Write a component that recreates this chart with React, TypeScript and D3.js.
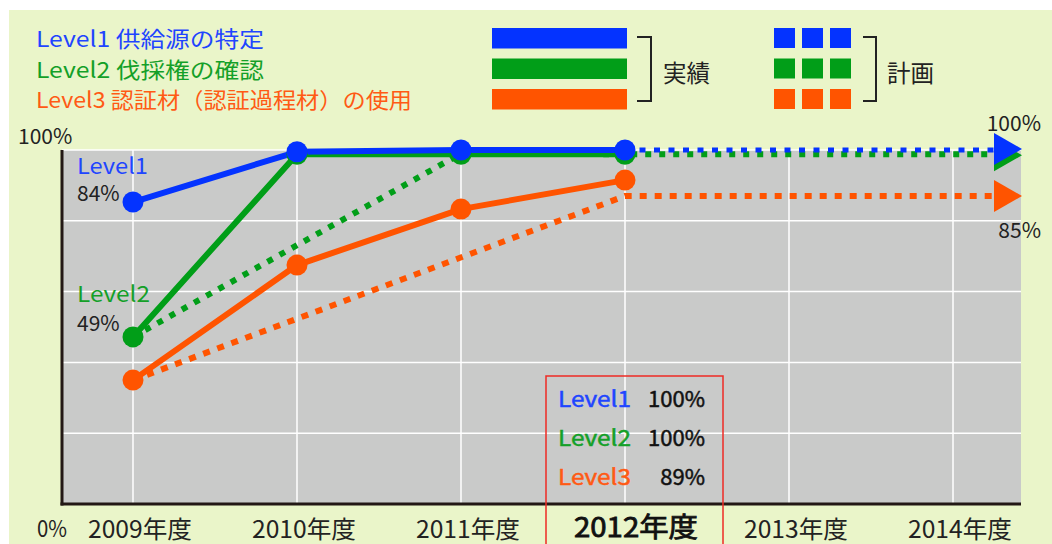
import React from 'react';
import * as d3 from 'd3';

// ---------- data ----------
const years = ['2009年度', '2010年度', '2011年度', '2012年度', '2013年度', '2014年度'];
const actualYears = ['2009年度', '2010年度', '2011年度', '2012年度'];
const level1Actual = [85.3, 99.5, 100, 100];
const level2Actual = [47.2, 98.8, 98.8, 98.8];
const level3Actual = [35, 67.5, 83.3, 91.5];
// plan lines ("END" = arrow at right edge)
const level1PlanX = ['2012年度', 'END'];
const level1PlanY = [100, 100];
const level2PlanX = ['2009年度', '2011年度', '2012年度', 'END'];
const level2PlanY = [47.2, 99, 98.8, 98.8];
const level3PlanX = ['2009年度', '2012年度', 'END'];
const level3PlanY = [35, 87, 87];
const gridTicks = [0, 20, 40, 60, 80, 100];
const legendLabels = ['Level1 供給源の特定', 'Level2 伐採権の確認', 'Level3 認証材（認証過程材）の使用'];
const boxLevels = ['Level1', 'Level2', 'Level3'];
const boxValues = ['100%', '100%', '89%'];
const startLabels = ['84%', '49%'];
const endLabels = ['100%', '85%'];
const highlightYear = '2012年度';

const BLUE = '#0433ff';
const GREEN = '#019e18';
const ORANGE = '#ff5400';
const BLUE_T = '#1f45ff';
const GREEN_T = '#14a028';
const ORANGE_T = '#ff5a14';
const DARK = '#222';
const FONT = '"Noto Sans CJK JP", "Noto Sans", sans-serif';

export default function App() {
  const left = 62, right = 1021, top = 150, bottom = 504;
  const x = d3.scalePoint<string>().domain(years).range([64, 1022]).padding(0.4207);
  const y = d3.scaleLinear().domain([0, 100]).range([bottom, top]);
  const arrowLen = 27;
  const xEndLine = right - arrowLen + 2;
  const xp = (k: string) => (k === 'END' ? xEndLine : (x(k) as number));

  const line = d3.line<[number, number]>().x((d) => d[0]).y((d) => d[1]);
  const actualPath = (vals: number[]) =>
    line(actualYears.map((k, i) => [x(k) as number, y(vals[i])]));
  const planPath = (ks: string[], vs: number[]) =>
    line(ks.map((k, i) => [xp(k), y(vs[i])]));
  const arrow = (v: number, dy = 0) => {
    const cy = y(v) + dy;
    return `M${right - arrowLen},${cy - 16}L${right + 1},${cy}L${right - arrowLen},${cy + 16}Z`;
  };

  const series = [
    { vals: level3Actual, color: ORANGE },
    { vals: level2Actual, color: GREEN },
    { vals: level1Actual, color: BLUE },
  ];
  const legendLens = [228, 228, 376];

  return (
    <svg width={1052} height={544} style={{ position: 'absolute', left: 0, top: 0, display: 'block' }} fontFamily={FONT}>
      <rect x={9} y={10} width={1043} height={534} fill="#eaf5c9" />
      <rect x={left} y={top} width={right - left} height={bottom - top} fill="#c9cac9" />
      {gridTicks.map((t) => (
        <line key={'h' + t} x1={left} x2={right} y1={y(t)} y2={y(t)} stroke="#fff" strokeWidth={1.5} />
      ))}
      {years.map((k) => (
        <line key={'v' + k} x1={x(k)} x2={x(k)} y1={top} y2={bottom} stroke="#fff" strokeWidth={1.5} />
      ))}
      <line x1={left} x2={left} y1={top} y2={bottom + 1.5} stroke="#231815" strokeWidth={3} />
      <line x1={left - 1.5} x2={right} y1={bottom} y2={bottom} stroke="#231815" strokeWidth={3} />

      {/* plan lines */}
      <path d={planPath(level3PlanX, level3PlanY) || ''} fill="none" stroke={ORANGE} strokeWidth={6} strokeDasharray="7 8" />
      <path d={planPath(level2PlanX, level2PlanY) || ''} fill="none" stroke={GREEN} strokeWidth={6} strokeDasharray="6 8" />
      <path d={planPath(level1PlanX, level1PlanY) || ''} fill="none" stroke={BLUE} strokeWidth={5} strokeDasharray="6 8.5" />
      <path d={arrow(level3PlanY[level3PlanY.length - 1])} fill={ORANGE} />
      <path d={arrow(level2PlanY[level2PlanY.length - 1], 1)} fill={GREEN} />
      <path d={arrow(level1PlanY[level1PlanY.length - 1], -1)} fill={BLUE} />

      {/* actual lines */}
      {series.map((s, i) => (
        <path key={'a' + i} d={actualPath(s.vals) || ''} fill="none" stroke={s.color} strokeWidth={6} strokeLinejoin="round" />
      ))}
      {series.map((s, i) =>
        s.vals.map((v, j) => (
          <circle key={'c' + i + '-' + j} cx={x(actualYears[j])} cy={y(v)} r={10.5} fill={s.color} />
        ))
      )}

      {/* legend (top-left) */}
      {legendLabels.map((t, i) => (
        <text key={t} x={36} y={37 + i * 30.5} dominantBaseline="central" fontSize={22}
          textLength={legendLens[i]} lengthAdjust="spacingAndGlyphs"
          fill={[BLUE_T, GREEN_T, ORANGE_T][i]}>{t}</text>
      ))}

      {/* legend bars */}
      {[BLUE, GREEN, ORANGE].map((c, i) => (
        <rect key={'lb' + i} x={492} y={28 + i * 30.5} width={135} height={20.5} fill={c} />
      ))}
      <path d="M637,37H651V101H637" fill="none" stroke={DARK} strokeWidth={2} />
      <text x={663} y={72} dominantBaseline="central" fontSize={23.5} fill={DARK}>実績</text>
      {[BLUE, GREEN, ORANGE].map((c, i) =>
        [0, 1, 2].map((j) => (
          <rect key={'ls' + i + j} x={774 + j * 28} y={28 + i * 30.5} width={21} height={20} fill={c} />
        ))
      )}
      <path d="M863,37H876V101H863" fill="none" stroke={DARK} strokeWidth={2} />
      <text x={887} y={72} dominantBaseline="central" fontSize={23.5} fill={DARK}>計画</text>

      {/* axis labels */}
      <text x={18} y={135} dominantBaseline="central" fontSize={21} fill={DARK}>100%</text>
      <text x={37} y={527} dominantBaseline="central" fontSize={23} fill={DARK} textLength={30} lengthAdjust="spacingAndGlyphs">0%</text>
      {years.map((k) =>
        k === highlightYear ? (
          <text key={k} x={(x(k) as number) + 11} y={525} textAnchor="middle" dominantBaseline="central" fontSize={27} fontWeight={400} fill="#111" stroke="#111" strokeWidth={0.8} textLength={124} lengthAdjust="spacingAndGlyphs">{k}</text>
        ) : (
          <text key={k} x={(x(k) as number) + 7} y={527} textAnchor="middle" dominantBaseline="central" fontSize={24} fill={DARK} textLength={104} lengthAdjust="spacingAndGlyphs">{k}</text>
        )
      )}

      {/* in-plot labels */}
      <text x={77} y={164} dominantBaseline="central" fontSize={22} fill={BLUE_T} textLength={71} lengthAdjust="spacingAndGlyphs">Level1</text>
      <text x={77} y={192} dominantBaseline="central" fontSize={21} fill={DARK}>{startLabels[0]}</text>
      <text x={77} y={292} dominantBaseline="central" fontSize={22} fill={GREEN_T} textLength={73} lengthAdjust="spacingAndGlyphs">Level2</text>
      <text x={77} y={322} dominantBaseline="central" fontSize={21} fill={DARK}>{startLabels[1]}</text>
      <text x={1041} y={122} textAnchor="end" dominantBaseline="central" fontSize={21} fill={DARK}>{endLabels[0]}</text>
      <text x={1041} y={229} textAnchor="end" dominantBaseline="central" fontSize={21} fill={DARK}>{endLabels[1]}</text>

      {/* highlight box */}
      <rect x={546} y={376} width={177} height={200} fill="none" stroke="#ee2b24" strokeWidth={1.5} />
      {boxLevels.map((t, i) => (
        <g key={t}>
          <text x={558} y={397 + i * 39} dominantBaseline="central" fontSize={22}
            stroke={[BLUE_T, GREEN_T, ORANGE_T][i]} strokeWidth={0.5}
            textLength={73} lengthAdjust="spacingAndGlyphs"
            fill={[BLUE_T, GREEN_T, ORANGE_T][i]}>{t}</text>
          <text x={705} y={397 + i * 39} textAnchor="end" dominantBaseline="central" fontSize={22} stroke="#111" strokeWidth={0.5} fill="#111">{boxValues[i]}</text>
        </g>
      ))}
    </svg>
  );
}
